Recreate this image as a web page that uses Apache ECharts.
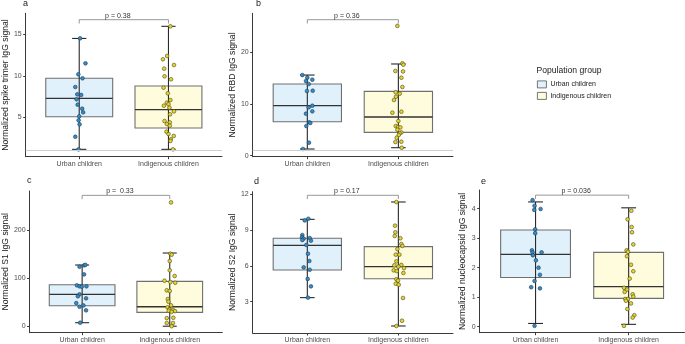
<!DOCTYPE html>
<html>
<head>
<meta charset="utf-8">
<script src="https://cdn.jsdelivr.net/npm/echarts@6/dist/echarts.min.js"></script>
<style>
html, body { margin: 0; padding: 0; background: #fff; }
#chart { width: 685px; height: 344px; }
</style>
</head>
<body>
<div id="chart"></div>
<script>
// categories and groups
var categories = ['Urban children', 'Indigenous children'];

// a - spike trimer
var spikeUrbanVal = [14.52, 11.5, 10.18, 9.7, 8.65, 7.77, 7.69, 7.17, 6.52, 6.04, 5.6, 5.12, 4.64, 4.15, 2.66, 1.14];
var spikeUrbanJit = [0.01, 0.07, -0.01, 0.037, -0.044, -0.022, 0.022, -0.03, -0.018, 0.033, 0.044, 0, -0.007, 0.004, -0.044, -0.007];
var spikeIndigVal = [15.96, 12.39, 11.99, 11.3, 10.86, 9.94, 9.58, 8.57, 7.89, 7.08, 6.76, 6.58, 6.4, 6.16, 5.72, 5.36, 4.55, 4.39, 4.19, 3.99, 3.27, 2.99, 2.75, 2.35, 2.15, 1.14];
var spikeIndigJit = [0.022, -0.015, -0.062, 0.062, -0.048, -0.044, 0.029, -0.055, -0.007, 0.022, -0.018, 0, -0.051, 0.011, 0.062, 0.018, -0.044, 0.015, -0.018, 0.015, -0.022, 0, 0.059, 0.026, 0.022, 0.051];
var spikeBoxes = [[1.14, 5.07, 7.29, 9.7, 14.5], [1.14, 3.71, 5.92, 8.77, 15.96]];

// b - RBD
var rbdUrbanVal = [15.6, 15.1, 14.7, 14.44, 13.87, 12.5, 12.57, 9.67, 9.36, 8.59, 8.13, 6.46, 6.33, 5.74, 2.52, 1.3];
var rbdUrbanJit = [-0.055, 0, 0.055, -0.015, 0.015, -0.004, 0.059, 0.055, 0.015, 0.055, -0.015, 0.022, 0.033, -0.011, 0.018, -0.048];
var rbdIndigVal = [25.1, 17.87, 17.6, 16.38, 16.3, 15.09, 13.29, 12.26, 12.0, 11.41, 10.77, 8.32, 8.51, 6.71, 5.74, 5.55, 5.48, 5.03, 4.5, 4.33, 4.0, 3.48, 2.65, 2.71, 1.55];
var rbdIndigJit = [-0.011, 0.044, 0.055, -0.033, 0.051, 0.033, 0.044, -0.029, 0.015, -0.026, -0.048, -0.066, 0.033, 0, -0.029, -0.004, 0.022, -0.011, 0.033, 0.015, 0.004, -0.018, -0.033, 0.033, 0.037];
var rbdBoxes = [[1.3, 6.58, 9.67, 13.87, 15.6], [1.55, 4.52, 7.49, 12.45, 17.74]];

// c - S1
var s1UrbanVal = [124, 126.8, 127.8, 108, 85.2, 83.1, 82.4, 83.1, 66.4, 62.3, 58.1, 48.3, 40.6, 43.3, 33.1, 7.3];
var s1UrbanJit = [-0.03, 0.022, 0.037, 0.022, -0.06, -0.03, -0.004, 0.049, -0.03, -0.049, 0.045, -0.067, -0.03, 0.015, 0.045, -0.022];
var s1IndigVal = [258, 151, 149, 135.8, 116.5, 104.6, 94.8, 92, 90.6, 74.8, 73.5, 56.7, 51.2, 43.5, 39.4, 35.2, 33.8, 32.4, 31.5, 30, 17, 17.7, 6.7, 6.7, 0];
var s1IndigJit = [0.015, 0.007, 0.022, 0, 0, 0.056, -0.06, 0.007, 0.063, -0.034, 0, -0.022, -0.015, 0.015, -0.026, -0.004, 0.037, -0.011, 0.06, 0.022, -0.034, 0.041, -0.034, 0.037, 0.022];
var s1Boxes = [[7.3, 42.8, 66.4, 86.5, 127.5], [0, 28.9, 40.6, 93.5, 152.5]];

// d - S2
var s2UrbanVal = [9.93, 9.79, 8.57, 8.38, 8.27, 8.32, 8.1, 8.15, 7.74, 7.01, 6.4, 5.87, 5.67, 4.9, 4.28, 3.34];
var s2UrbanJit = [0.011, -0.029, -0.055, -0.059, -0.04, 0.026, 0.04, -0.055, -0.011, 0.007, 0.022, -0.04, 0.026, 0.004, 0.04, 0.007];
var s2IndigVal = [11.33, 9.35, 8.8, 8.49, 8.3, 7.82, 7.66, 7.4, 6.93, 6.93, 6.37, 6.07, 6.04, 5.93, 5.81, 5.62, 5.56, 5.4, 4.87, 4.76, 4.5, 4.42, 3.31, 1.41, 0.97];
var s2IndigJit = [-0.022, -0.037, -0.033, -0.04, 0.022, 0.033, 0.044, -0.011, -0.029, 0.011, -0.022, 0.033, -0.044, 0, 0.062, -0.051, -0.018, 0.055, -0.022, -0.004, -0.029, 0.004, 0.051, 0.04, -0.022];
var s2Boxes = [[3.34, 5.65, 7.71, 8.3, 9.88], [0.97, 4.92, 5.93, 7.6, 11.33]];

// e - nucleocapsid
var ncUrbanVal = [4.29, 4.1, 3.96, 3.99, 3.3, 3.17, 2.59, 2.52, 2.52, 2.42, 2.25, 2.0, 1.76, 1.55, 1.34, 1.3, 0.03];
var ncUrbanJit = [-0.032, -0.011, -0.014, 0.054, -0.004, -0.004, -0.039, -0.032, 0.065, -0.029, 0.004, 0.032, 0.047, -0.011, -0.047, 0.047, -0.011];
var ncIndigVal = [3.93, 3.64, 3.38, 3.2, 2.79, 2.59, 2.54, 2.39, 2.1, 1.88, 1.63, 1.32, 1.26, 1.18, 1.1, 1.02, 0.94, 0.94, 0.88, 0.79, 0.6, 0.39, 0.31, 0.03];
var ncIndigJit = [0.029, -0.011, 0.032, 0.036, 0.05, -0.022, -0.007, -0.018, 0.025, 0.05, 0.011, -0.05, -0.018, -0.043, 0.043, 0.05, -0.036, -0.007, -0.029, 0.025, -0.014, 0.061, 0.043, -0.05];
var ncBoxes = [[0.11, 1.67, 2.45, 3.28, 4.23], [0.08, 0.96, 1.36, 2.52, 4.03]];

// p values and bracket heights
var pLabels = ['p = 0.38', 'p = 0.36', 'p =  0.33', 'p = 0.17', 'p = 0.036'];
var bracketY = [16.76, 26.3, 272.6, 11.89, 4.46];

// y ticks
var spikeTicks = [5, 10, 15];
var rbdTicks = [0, 10, 20];
var s1Ticks = [0, 100, 200];
var s2Ticks = [3, 6, 9, 12];
var ncTicks = [0, 1, 2, 3, 4];

var font = 'Liberation Sans, Arial, sans-serif';
var fills = ['#e0f1fc', '#fefcdc'];
var dotColors = ['#3b8ac2', '#e3d534'];
var dotBorders = ['#1a3f5a', '#4f4818'];

var panels = [
    {letter: 'a', title: 'Normalized spike trimer IgG signal', grid: {left: 21.7, top: 13.3, width: 200.3, height: 143.4},
        ymin: 0.253, ymax: 17.53, ticks: spikeTicks, nameGap: 14, refLine: true,
        vals: [spikeUrbanVal, spikeIndigVal], jit: [spikeUrbanJit, spikeIndigJit], boxes: spikeBoxes},
    {letter: 'b', title: 'Normalized RBD IgG signal', grid: {left: 252.7, top: 13.3, width: 200.3, height: 143.4},
        ymin: -0.19, ymax: 27.54, ticks: rbdTicks, nameGap: 15, refLine: true,
        vals: [rbdUrbanVal, rbdIndigVal], jit: [rbdUrbanJit, rbdIndigJit], boxes: rbdBoxes},
    {letter: 'c', title: 'Normalized S1 IgG signal', grid: {left: 25.7, top: 191, width: 196.6, height: 141.7},
        ymin: -13.5, ymax: 281.7, ticks: s1Ticks, nameGap: 18, refLine: false,
        vals: [s1UrbanVal, s1IndigVal], jit: [s1UrbanJit, s1IndigJit], boxes: s1Boxes},
    {letter: 'd', title: 'Normalized S2 IgG signal', grid: {left: 252.7, top: 191.7, width: 200.3, height: 141.3},
        ymin: 0.384, ymax: 12.19, ticks: s2Ticks, nameGap: 15, refLine: false,
        vals: [s2UrbanVal, s2IndigVal], jit: [s2UrbanJit, s2IndigJit], boxes: s2Boxes},
    {letter: 'e', title: 'Normalized nucleocapsid IgG signal', grid: {left: 479.7, top: 190, width: 204.8, height: 142.7},
        ymin: -0.203, ymax: 4.634, ticks: ncTicks, nameGap: 13, refLine: false,
        vals: [ncUrbanVal, ncIndigVal], jit: [ncUrbanJit, ncIndigJit], boxes: ncBoxes}
];
var letterPos = [[23, -1], [256, -1], [27, 176], [254, 177], [481, 177]];

function renderBox(params, api) {
    var x = api.value(0);
    var hw = 0.375, cw = 0.08;
    var pMin = api.coord([x, api.value(1)]);
    var pQ1 = api.coord([x, api.value(2)]);
    var pMed = api.coord([x, api.value(3)]);
    var pQ3 = api.coord([x, api.value(4)]);
    var pMax = api.coord([x, api.value(5)]);
    var xl = api.coord([x - hw, 0])[0], xr = api.coord([x + hw, 0])[0];
    var cl = api.coord([x - cw, 0])[0], cr = api.coord([x + cw, 0])[0];
    var wStyle = {stroke: '#2a2a2a', lineWidth: 1.1};
    return {
        type: 'group',
        children: [
            {type: 'rect', shape: {x: xl, y: pQ3[1], width: xr - xl, height: pQ1[1] - pQ3[1]},
                style: {fill: api.visual('color'), stroke: '#707070', lineWidth: 1.1}},
            {type: 'line', shape: {x1: pMin[0], y1: pMin[1], x2: pMax[0], y2: pMax[1]}, style: wStyle},
            {type: 'line', shape: {x1: cl, y1: pMin[1], x2: cr, y2: pMin[1]}, style: wStyle},
            {type: 'line', shape: {x1: cl, y1: pMax[1], x2: cr, y2: pMax[1]}, style: wStyle},
            {type: 'line', shape: {x1: xl, y1: pMed[1], x2: xr, y2: pMed[1]}, style: {stroke: '#333', lineWidth: 1.3}}
        ]
    };
}

function makeBracket(label) {
    return function (params, api) {
        var p1 = api.coord([api.value(0), api.value(2)]);
        var p2 = api.coord([api.value(1), api.value(2)]);
        var tick = 3.8;
        return {
            type: 'group',
            children: [
                {type: 'polyline', shape: {points: [[p1[0], p1[1] + tick], p1, p2, [p2[0], p2[1] + tick]]},
                    style: {fill: 'none', stroke: '#8c8c8c', lineWidth: 0.9}},
                {type: 'text', x: (p1[0] + p2[0]) / 2 - 6, y: p1[1] - 0.5,
                    style: {text: label, fill: '#333', fontSize: 7, fontFamily: font, align: 'center', verticalAlign: 'bottom'}}
            ]
        };
    };
}

var grids = [], xAxes = [], yAxes = [], series = [], titles = [];

panels.forEach(function (p, i) {
    grids.push(p.grid);
    xAxes.push({
        gridIndex: i, type: 'value', min: 0.4, max: 2.6,
        axisLine: {show: true, onZero: false, lineStyle: {color: '#3a3a3a', width: 1}},
        axisTick: {show: true, length: 2.5, customValues: [1, 2], lineStyle: {color: '#3a3a3a'}},
        axisLabel: {customValues: [1, 2], formatter: function (v) { return categories[Math.round(v) - 1]; },
            fontSize: 7, color: '#4d4d4d', margin: 3.5, fontFamily: font},
        splitLine: {show: false}
    });
    yAxes.push({
        gridIndex: i, type: 'value', min: p.ymin, max: p.ymax,
        name: p.title, nameLocation: 'middle', nameGap: p.nameGap,
        nameTextStyle: {fontSize: 8.6, color: '#1a1a1a', fontFamily: font},
        axisLine: {show: true, onZero: false, lineStyle: {color: '#3a3a3a', width: 1}},
        axisTick: {show: true, length: 2.5, customValues: p.ticks, lineStyle: {color: '#3a3a3a'}},
        axisLabel: {customValues: p.ticks, fontSize: 7, color: '#4d4d4d', margin: 4, fontFamily: font},
        splitLine: {show: false}
    });
    titles.push({text: p.letter, left: letterPos[i][0], top: letterPos[i][1], padding: 0,
        textStyle: {fontSize: 9, fontWeight: 'normal', color: '#1a1a1a', fontFamily: font}});

    [0, 1].forEach(function (g) {
        series.push({
            type: 'custom', name: categories[g], xAxisIndex: i, yAxisIndex: i, z: 2,
            itemStyle: {color: fills[g]},
            renderItem: renderBox,
            data: [[g + 1].concat(p.boxes[g])]
        });
    });
    [0, 1].forEach(function (g) {
        var s = {
            type: 'scatter', name: categories[g], xAxisIndex: i, yAxisIndex: i, z: 3,
            symbolSize: 3.7,
            itemStyle: {color: dotColors[g], borderColor: dotBorders[g], borderWidth: 0.6, opacity: 1},
            data: p.vals[g].map(function (v, k) { return [g + 1 + p.jit[g][k], v]; })
        };
        if (g === 0 && p.refLine) {
            s.markLine = {silent: true, symbol: 'none', label: {show: false},
                lineStyle: {color: '#d0d0d0', width: 1, type: 'solid'}, data: [{yAxis: 1}]};
        }
        series.push(s);
    });
    series.push({
        type: 'custom', xAxisIndex: i, yAxisIndex: i, z: 4,
        renderItem: makeBracket(pLabels[i]),
        data: [[1, 2, bracketY[i]]]
    });
});

titles.push({text: 'Population group', left: 536.5, top: 66, padding: 0,
    textStyle: {fontSize: 8.6, fontWeight: 'normal', color: '#1a1a1a', fontFamily: font}});

var chart = echarts.init(document.getElementById('chart'));
chart.setOption({
    animation: false,
    backgroundColor: '#fff',
    title: titles,
    legend: {
        orient: 'vertical', left: 537, top: 80.5, padding: 0,
        itemWidth: 9, itemHeight: 7, itemGap: 3.7,
        textStyle: {fontSize: 7, color: '#1a1a1a', fontFamily: font, padding: [0, 0, 0, -1]},
        data: [
            {name: 'Urban children', icon: 'rect', itemStyle: {color: fills[0], borderColor: '#555', borderWidth: 0.8}},
            {name: 'Indigenous children', icon: 'rect', itemStyle: {color: fills[1], borderColor: '#555', borderWidth: 0.8}}
        ]
    },
    grid: grids,
    xAxis: xAxes,
    yAxis: yAxes,
    series: series
});
</script>
</body>
</html>
